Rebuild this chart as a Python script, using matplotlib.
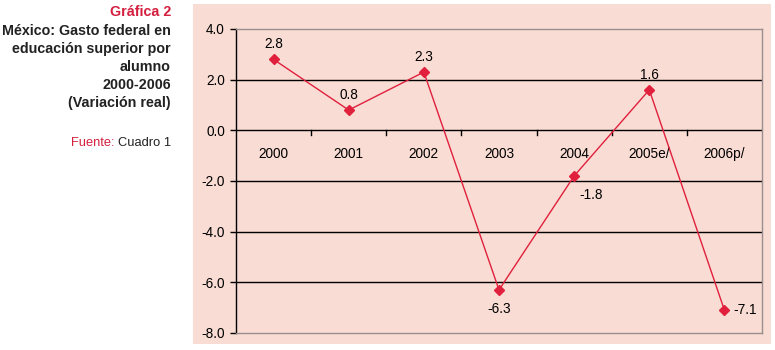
import matplotlib
matplotlib.use("Agg")
import matplotlib.pyplot as plt
from matplotlib.patches import Rectangle

categories = ["2000", "2001", "2002", "2003", "2004", "2005e/", "2006p/"]
values = [2.8, 0.8, 2.3, -6.3, -1.8, 1.6, -7.1]
labels = ["2.8", "0.8", "2.3", "-6.3", "-1.8", "1.6", "-7.1"]
yticks = [4.0, 2.0, 0.0, -2.0, -4.0, -6.0, -8.0]

plt.rcParams['font.family'] = ['Liberation Sans', 'DejaVu Sans']
PINK = "#F9DCD3"
RED = "#E0203C"
TITLE_RED = "#D41F3E"
FS = 9.8

fig = plt.figure(figsize=(7.75, 3.5), dpi=100)
fig.patch.set_facecolor("white")
fig.patches.append(Rectangle((193/775, 1-344/350), (771-193)/775, 340/350,
                             transform=fig.transFigure, facecolor=PINK,
                             edgecolor="none", zorder=-5))

ax = fig.add_axes([236/775, 1-333/350, (762-236)/775, (333-29)/350])
ax.set_zorder(2)
ax.set_facecolor(PINK)
ax.set_xlim(-0.5, len(categories) - 0.5)
ax.set_ylim(-8, 4)

for y in [2, -2, -4, -6]:
    ax.axhline(y, color="black", lw=1.0, zorder=1)
ax.axhline(0, color="black", lw=1.0, zorder=1)

for s in ["top", "right", "bottom"]:
    ax.spines[s].set_color("#9A8F8F")
    ax.spines[s].set_linewidth(1.0)
ax.spines["left"].set_color("black")
ax.spines["left"].set_linewidth(1.0)

ax.set_yticks(yticks)
ax.set_yticklabels([f"{v:.1f}" for v in yticks], fontsize=FS)
ax.tick_params(axis="y", length=4, width=1, color="black", pad=4)
ax.set_xticks([])

# category boundary ticks on the zero line
for k in range(1, len(categories)):
    ax.plot([k - 0.5, k - 0.5], [0, -0.17], color="black", lw=1.0, zorder=2)
for i, c in enumerate(categories):
    ax.text(i, -0.95, c, ha="center", va="center", fontsize=FS)

xs = list(range(len(categories)))
ax.plot(xs, values, color=RED, lw=1.0, marker="D", markersize=5.5,
        markerfacecolor=RED, markeredgecolor=RED, zorder=3)

offsets = {
    0: (0, 0.6, "center"),
    1: (0, 0.6, "center"),
    2: (0, 0.6, "center"),
    3: (0, -0.75, "center"),
    4: (0.22, -0.75, "center"),
    5: (0, 0.6, "center"),
    6: (0.12, 0.0, "left"),
}
for i, (v, lab) in enumerate(zip(values, labels)):
    dx, dy, ha = offsets[i]
    ax.text(i + dx, v + dy, lab, ha=ha, va="center", fontsize=FS)

# Title block
x_r = 171/775
fig.text(x_r, 1-12/350, "Gráfica 2", ha="right", va="center", fontsize=10.3,
         fontweight="bold", color=TITLE_RED)
title_lines = ["México: Gasto federal en", "educación superior por", "alumno",
               "2000-2006", "(Variación real)"]
ys = [31, 49.5, 67, 85, 103]
for t, y in zip(title_lines, ys):
    fig.text(x_r, 1-y/350, t, ha="right", va="center", fontsize=10.3,
             fontweight="bold", color="#222222")

t2 = fig.text(x_r, 1-143/350, "Cuadro 1", ha="right", va="center", fontsize=9.3,
              color="#222222")
fig.canvas.draw()
bb = t2.get_window_extent()
fig.text((bb.x0 - 3)/775, 1-143/350, "Fuente:", ha="right", va="center",
         fontsize=9.3, color=TITLE_RED)

fig.savefig("out.png", dpi=100)
